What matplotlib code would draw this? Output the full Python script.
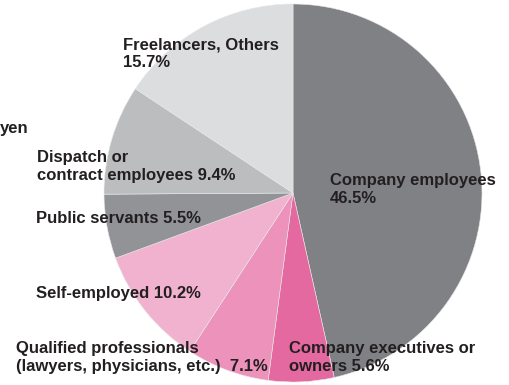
import matplotlib.pyplot as plt

# occupation shares, clockwise from 12 o'clock
labels = [
    "Company employees\n46.5%",
    "Company executives or\nowners 5.6%",
    "Qualified professionals\n(lawyers, physicians, etc.)  7.1%",
    "Self-employed 10.2%",
    "Public servants 5.5%",
    "Dispatch or\ncontract employees 9.4%",
    "Freelancers, Others\n15.7%",
]
shares = [46.5, 5.6, 7.1, 10.2, 5.5, 9.4, 15.7]
colors = ["#808185", "#e469a0", "#ec92bb", "#f0b2ce", "#929396", "#bcbdbf", "#dcdddf"]

# label anchors (left edge, last-line baseline) in pixels from top-left
label_pos = [(330, 203), (289, 371), (16, 371), (36, 298), (36, 223), (37, 180), (123, 67)]

W, H = 510, 385
fig = plt.figure(figsize=(W / 100, H / 100), dpi=100)
ax = fig.add_axes([0, 0, 1, 1])

ax.pie(shares, colors=colors, startangle=90, counterclock=False,
       center=(293, H - 193), radius=189,
       wedgeprops=dict(edgecolor="#e8e8e8", linewidth=0.4))
ax.set_xlim(0, W)
ax.set_ylim(0, H)
ax.set_aspect("equal")
ax.axis("off")

font = dict(family=["Liberation Sans", "DejaVu Sans"], fontsize=12,
            fontweight="bold", color="#231f20")
for text, (x, y) in zip(labels, label_pos):
    ax.text(x, H - y, text, ha="left", va="baseline", linespacing=1.22, **font)

# tail of a caption that runs off the left edge
ax.text(0, H - 133, "yen", ha="left", va="baseline", **font)

fig.savefig("out.png", dpi=100)
